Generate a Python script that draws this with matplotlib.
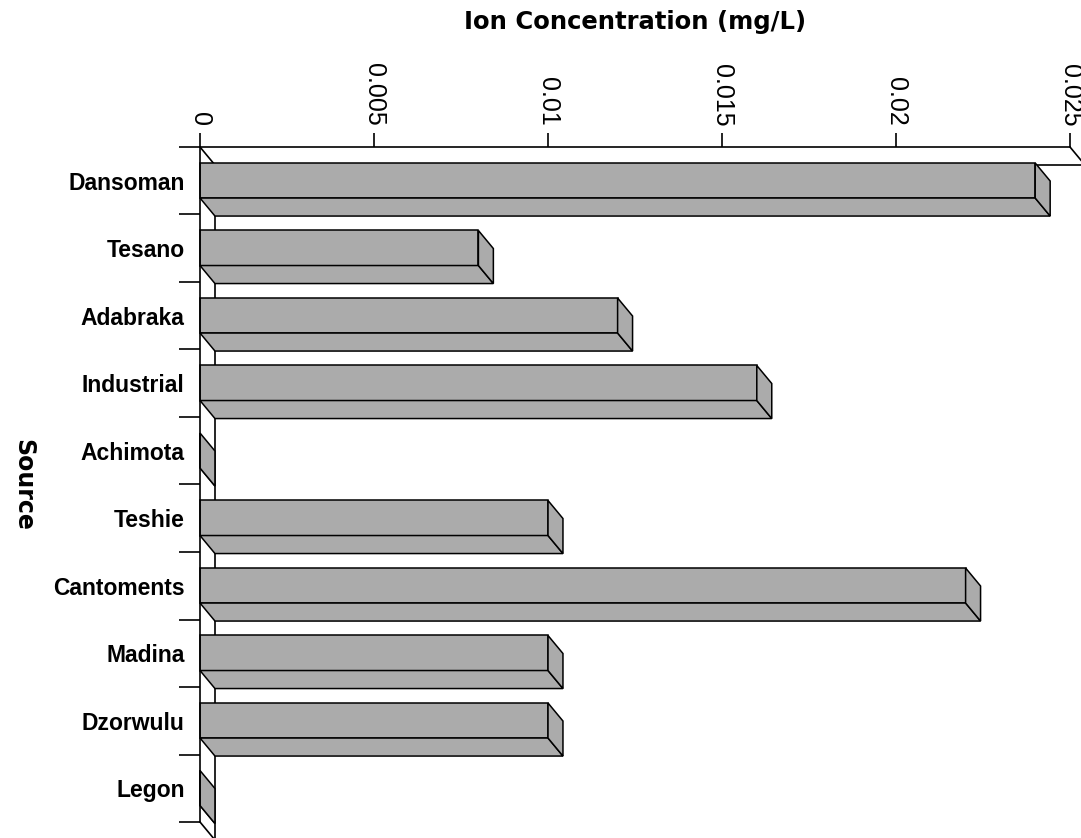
import matplotlib.pyplot as plt
from matplotlib.patches import Polygon

sources = ['Dansoman', 'Tesano', 'Adabraka', 'Industrial', 'Achimota',
           'Teshie', 'Cantoments', 'Madina', 'Dzorwulu', 'Legon']
concentration = [0.024, 0.008, 0.012, 0.016, 0.0,
                 0.010, 0.022, 0.010, 0.010, 0.0]
x_ticks = [0, 0.005, 0.01, 0.015, 0.02, 0.025]
x_tick_labels = ['0', '0.005', '0.01', '0.015', '0.02', '0.025']

W, H = 1081, 838
X_MAX = 0.025
# pseudo-3d depth offsets (data units)
DX = 0.00043
DY = 0.267
FRONT_TOP, FRONT_BOT = 0.237, 0.756
BAR_FACE = '#ababab'

fig = plt.figure(figsize=(W / 100, H / 100), dpi=100)
ax = fig.add_axes([200 / W, 0, 881 / W, 691 / H])
ax.set_xlim(0, X_MAX * 881 / 870)
ax.set_ylim(691 / 67.5, 0)
n = len(sources)

# back wall / floor edges
line_kw = dict(color='black', lw=1.2, zorder=1, clip_on=False)
ax.plot([DX, DX], [DY, 691 / 67.5], **line_kw)
ax.plot([DX, X_MAX + DX], [DY, DY], **line_kw)
ax.plot([0, DX], [0, DY], **line_kw)
ax.plot([X_MAX, X_MAX + DX], [0, DY], **line_kw)
ax.plot([0, DX], [n, n + DY], **line_kw)

for i, v in enumerate(concentration):
    yt, yb = i + FRONT_TOP, i + FRONT_BOT
    faces = [
        [(0, yt), (v, yt), (v, yb), (0, yb)],
        [(0, yb), (v, yb), (v + DX, yb + DY), (DX, yb + DY)],
        [(v, yt), (v + DX, yt + DY), (v + DX, yb + DY), (v, yb)],
    ]
    for pts in faces:
        ax.add_patch(Polygon(pts, closed=True, facecolor=BAR_FACE,
                             edgecolor='black', lw=1.1, zorder=2,
                             clip_on=False))

ax.xaxis.tick_top()
ax.set_xticks(x_ticks)
ax.set_xticklabels(x_tick_labels, family='Liberation Sans')
ax.tick_params(axis='x', length=10, width=1.2, pad=5,
               labelrotation=-90, labelsize=18)

ax.set_yticks(range(n + 1))
ax.set_yticklabels([])
ax.set_yticks([i + 0.5 for i in range(n)], minor=True)
ax.set_yticklabels(sources, minor=True, family='Liberation Sans',
                   fontsize=16.5, fontweight='bold')
ax.tick_params(axis='y', which='major', length=15, width=1.2)
ax.tick_params(axis='y', which='minor', length=0, pad=11)

for side in ['right', 'bottom']:
    ax.spines[side].set_visible(False)
ax.spines['top'].set_bounds(0, X_MAX)
ax.spines['left'].set_bounds(0, n)
for side in ['top', 'left']:
    ax.spines[side].set_linewidth(1.2)

fig.text(635 / W, 1 - 22 / H, 'Ion Concentration (mg/L)', ha='center',
         va='center', fontsize=17.5, fontweight='bold', family='DejaVu Sans')
fig.text(23 / W, 1 - 485 / H, 'Source', ha='center', va='center',
         rotation=-90, fontsize=17, fontweight='bold', family='DejaVu Sans')

fig.savefig('out.png', dpi=100, facecolor='white')
